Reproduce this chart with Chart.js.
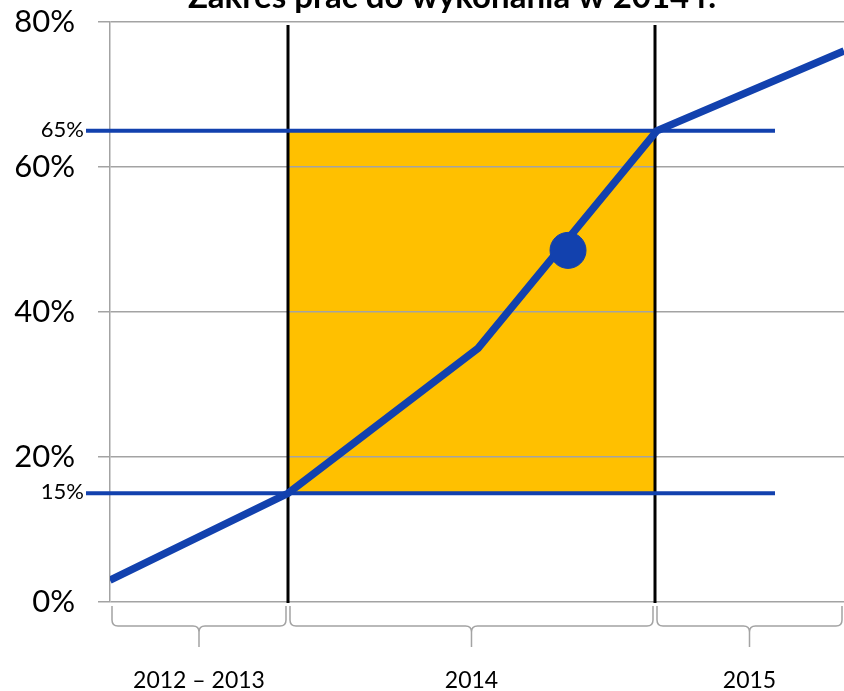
<!DOCTYPE html>
<html>
<head>
<meta charset="utf-8">
<script src="https://cdn.jsdelivr.net/npm/chart.js"></script>
<style>
  html, body { margin: 0; padding: 0; background: #fff; overflow: hidden; }
  #chart { display: block; }
</style>
</head>
<body>
<canvas id="chart" width="844" height="691"></canvas>
<script>
// okresy na osi X (lata: 0 = początek 2014, 1 = początek 2015)
const categories = ['2012 – 2013', '2014', '2015'];
const periodEdges = [-0.485, 0, 1, 1.515];

// linia postępu prac
const progressX = [-0.485, 0, 0.518, 1.005, 1.515];
const progressY = [3, 15, 35, 65, 76];

// punkt "dziś"
const markerX = [0.763];
const markerY = [48.5];

// zakres prac do wykonania w 2014 r.
const bandFrom = 15;
const bandTo = 65;
const bandLabels = ['15%', '65%'];
const bandLineEnd = 1.327;

const yTicks = [0, 20, 40, 60, 80];
const title = 'Zakres prac do wykonania w 2014 r.';

const BLUE = '#1241ae';
const ORANGE = '#ffc000';
const GRAY = '#a3a3a3';
const FONT = 'Lato, "Open Sans", sans-serif';

const overlay = {
    id: 'overlay',
    beforeDraw(chart) {
        const { ctx, scales: { x, y } } = chart;
        ctx.save();
        ctx.fillStyle = ORANGE;
        const x0 = x.getPixelForValue(periodEdges[1]);
        const x1 = x.getPixelForValue(periodEdges[2]);
        const yTop = y.getPixelForValue(bandTo);
        const yBot = y.getPixelForValue(bandFrom);
        ctx.fillRect(x0, yTop, x1 - x0, yBot - yTop);
        ctx.restore();
    },
    beforeDatasetsDraw(chart) {
        const { ctx, chartArea, scales: { x, y } } = chart;
        ctx.save();

        // pionowe czarne linie na granicy roku 2014
        ctx.strokeStyle = '#000';
        ctx.lineWidth = 3;
        [periodEdges[1], periodEdges[2]].forEach(v => {
            const px = Math.round(x.getPixelForValue(v));
            ctx.beginPath();
            ctx.moveTo(px, chartArea.top + 3);
            ctx.lineTo(px, chartArea.bottom + 1);
            ctx.stroke();
        });

        // poziome niebieskie linie 15% i 65%
        ctx.strokeStyle = BLUE;
        ctx.lineWidth = 4;
        ctx.fillStyle = '#000';
        ctx.font = '22px ' + FONT;
        ctx.textAlign = 'right';
        ctx.textBaseline = 'middle';
        [bandFrom, bandTo].forEach((v, i) => {
            const py = y.getPixelForValue(v);
            ctx.beginPath();
            ctx.moveTo(chartArea.left - 24, py);
            ctx.lineTo(x.getPixelForValue(bandLineEnd), py);
            ctx.stroke();
            ctx.fillText(bandLabels[i], chartArea.left - 26, py - 1);
        });

        // klamry i etykiety okresów
        ctx.strokeStyle = GRAY;
        ctx.lineWidth = 1.5;
        const top = chartArea.bottom + 4;
        const mid = chartArea.bottom + 24;
        const tip = chartArea.bottom + 45;
        const r = 6;
        ctx.fillStyle = '#000';
        ctx.font = '23px ' + FONT;
        ctx.textAlign = 'center';
        ctx.textBaseline = 'alphabetic';
        categories.forEach((label, i) => {
            const a = x.getPixelForValue(periodEdges[i]) + 2;
            const b = x.getPixelForValue(periodEdges[i + 1]) - 2;
            const c = (a + b) / 2;
            ctx.beginPath();
            ctx.moveTo(a, top);
            ctx.lineTo(a, mid - r);
            ctx.quadraticCurveTo(a, mid, a + r, mid);
            ctx.lineTo(c - r, mid);
            ctx.quadraticCurveTo(c, mid, c, mid + r);
            ctx.lineTo(c, tip);
            ctx.moveTo(c, mid + r);
            ctx.quadraticCurveTo(c, mid, c + r, mid);
            ctx.lineTo(b - r, mid);
            ctx.quadraticCurveTo(b, mid, b, mid - r);
            ctx.lineTo(b, top);
            ctx.stroke();
            ctx.fillText(label, c, chartArea.bottom + 86);
        });
        ctx.restore();
    },
    afterDraw(chart) {
        const { ctx, chartArea } = chart;
        ctx.save();
        ctx.fillStyle = '#000';
        ctx.font = 'bold 33px ' + FONT;
        ctx.textAlign = 'center';
        ctx.textBaseline = 'alphabetic';
        ctx.fillText(title, chartArea.left + 342, 8);
        ctx.restore();
    }
};

new Chart(document.getElementById('chart'), {
    type: 'scatter',
    data: {
        datasets: [
            {
                label: 'postęp',
                data: progressX.map((v, i) => ({ x: v, y: progressY[i] })),
                showLine: true,
                borderColor: BLUE,
                borderWidth: 7.5,
                pointRadius: 0,
                tension: 0,
                order: 2
            },
            {
                label: 'dziś',
                data: markerX.map((v, i) => ({ x: v, y: markerY[i] })),
                showLine: false,
                backgroundColor: BLUE,
                borderColor: BLUE,
                pointRadius: 18,
                order: 1
            }
        ]
    },
    options: {
        responsive: false,
        animation: false,
        devicePixelRatio: 1,
        layout: { autoPadding: false, padding: { top: 22, bottom: 89, left: 0, right: 0 } },
        plugins: {
            legend: { display: false },
            tooltip: { enabled: false },
            title: { display: false }
        },
        scales: {
            x: {
                type: 'linear',
                display: false,
                min: periodEdges[0],
                max: periodEdges[periodEdges.length - 1]
            },
            y: {
                min: 0,
                max: 80,
                afterFit: s => {
                    s.width = 110;
                    s.paddingTop = 0;
                    s.paddingBottom = 0;
                },
                afterBuildTicks: s => { s.ticks = yTicks.map(v => ({ value: v })); },
                ticks: {
                    padding: 23,
                    color: '#000',
                    font: { family: FONT, size: 31 },
                    callback: v => v + '%'
                },
                grid: { color: GRAY, lineWidth: 1.5, tickLength: 12 },
                border: { color: GRAY, width: 1.5 }
            }
        }
    },
    plugins: [overlay]
});
</script>
</body>
</html>
